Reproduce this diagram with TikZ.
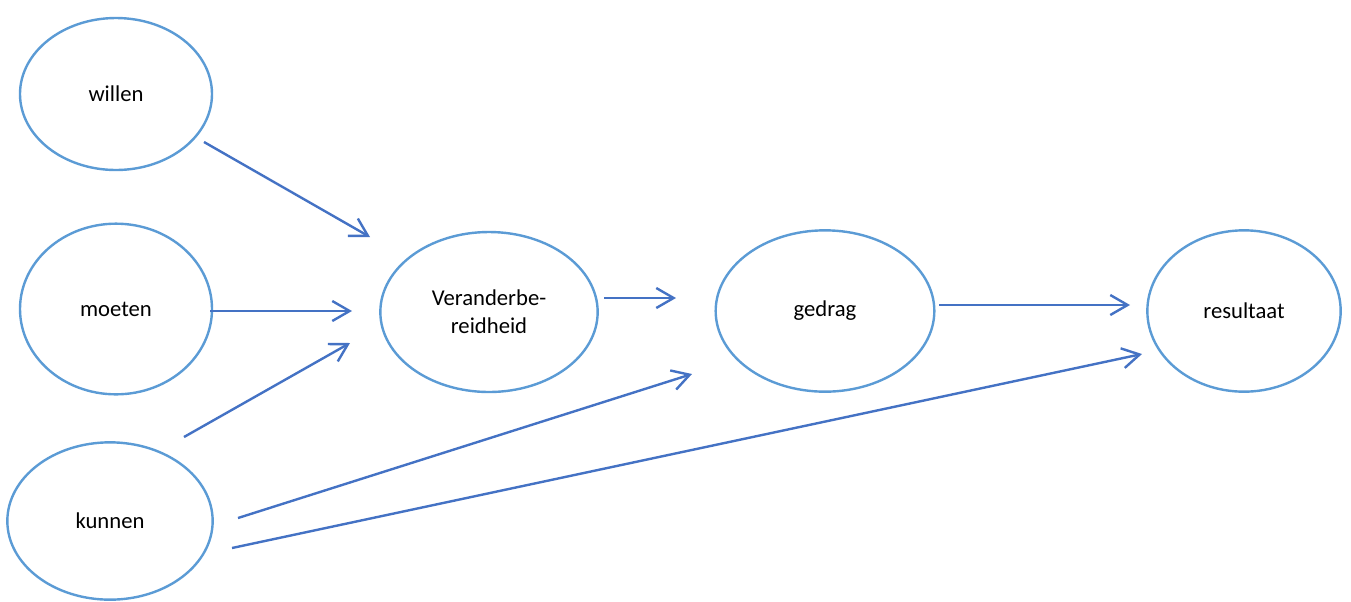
\documentclass[tikz,border=0pt]{standalone}
\usepackage{fontspec}
\setmainfont{Carlito}
\usepackage{xcolor}
\usetikzlibrary{arrows.meta,shapes.geometric}
\definecolor{ringblue}{RGB}{91,155,213}
\definecolor{arrowblue}{RGB}{68,114,196}
\tikzset{
  factor/.style={ellipse,draw=ringblue,line width=1.8pt,fill=white,
    inner sep=0pt,font=\fontsize{17}{21}\selectfont,align=center},
  flow/.style={-{Straight Barb[length=13pt,width=15pt]},line width=1.8pt,
    draw=arrowblue}
}
\begin{document}
\begin{tikzpicture}[x=0.75pt,y=-0.75pt]
  \useasboundingbox (0,0) rectangle (1351,601);
  % ellipses
  \node[factor,minimum width=144pt,minimum height=114pt] (willen) at (116,94) {willen};
  \node[factor,minimum width=144pt,minimum height=128pt] (moeten) at (116,309) {moeten};
  \node[factor,minimum width=154pt,minimum height=118pt] (kunnen) at (110,521) {kunnen};
  \node[factor,minimum width=163pt,minimum height=120pt] (bereid) at (489,312) {Veranderbe-\\reidheid};
  \node[factor,minimum width=164pt,minimum height=121pt] (gedrag) at (825,311) {gedrag};
  \node[factor,minimum width=145pt,minimum height=121pt] (result) at (1244,311) {resultaat};
  % arrow ends
  \coordinate (w1) at (204,142);  \coordinate (w2) at (370,237);
  \coordinate (m1) at (210,311);  \coordinate (m2) at (352,311);
  \coordinate (k1) at (184,437);  \coordinate (k2) at (350,343);
  \coordinate (b1) at (604,298);  \coordinate (b2) at (676,298);
  \coordinate (g1) at (939,305);  \coordinate (g2) at (1130,305);
  \coordinate (kg1) at (238,518); \coordinate (kg2) at (692,374);
  \coordinate (kr1) at (232,548); \coordinate (kr2) at (1142,354);
  \draw[flow] (w1) -- (w2);
  \draw[flow] (m1) -- (m2);
  \draw[flow] (k1) -- (k2);
  \draw[flow] (b1) -- (b2);
  \draw[flow] (g1) -- (g2);
  \draw[flow] (kg1) -- (kg2);
  \draw[flow] (kr1) -- (kr2);
\end{tikzpicture}
\end{document}
